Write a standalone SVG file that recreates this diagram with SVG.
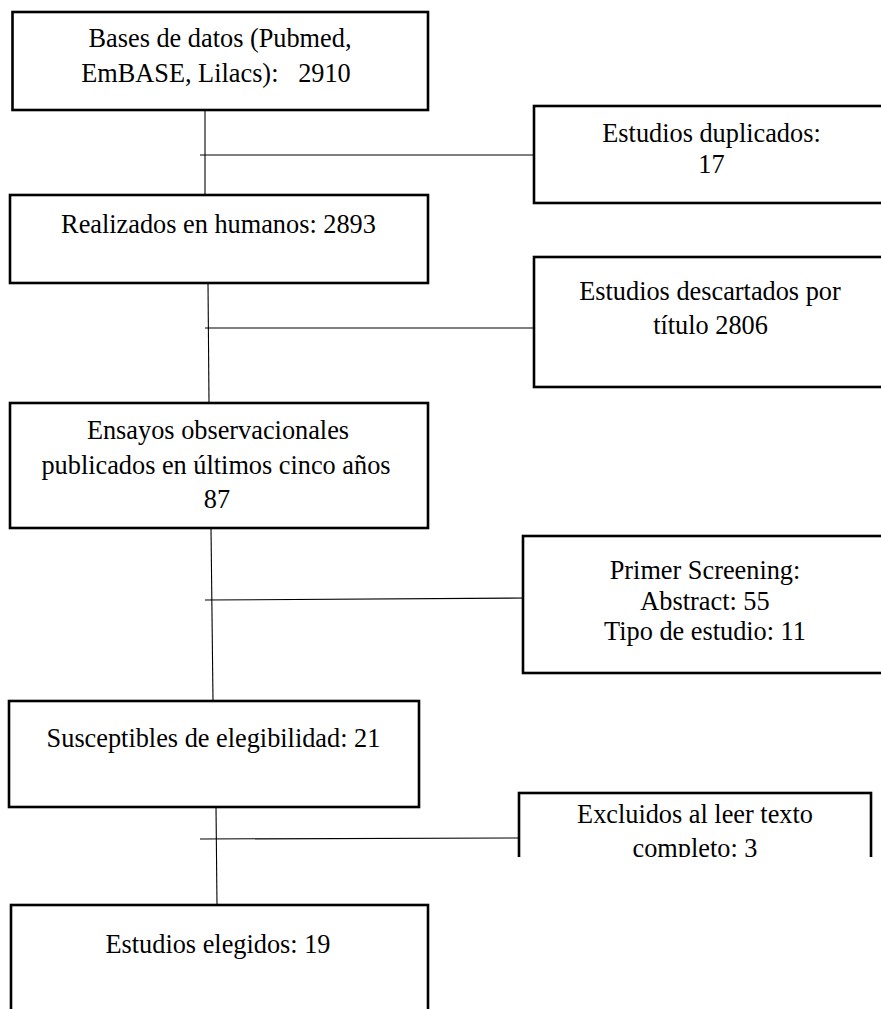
<svg xmlns="http://www.w3.org/2000/svg" width="881" height="1009" viewBox="0 0 881 1009">
<style>
.box{fill:#fff;stroke:#000;stroke-width:2.6}
.edge{fill:none;stroke:#000;stroke-width:1.1}
text{font-family:"Liberation Serif","Times New Roman",serif;font-size:26.3px;fill:#000;text-anchor:middle}
</style>
<defs>
<clipPath id="clip8"><rect x="510" y="780" width="371" height="77"/></clipPath>
</defs>
<rect width="881" height="1009" fill="#fff"/>
<g id="connectors">
<line class="edge" x1="205" y1="110" x2="205" y2="195"/>
<line class="edge" x1="200" y1="155" x2="533" y2="155"/>
<line class="edge" x1="208" y1="283" x2="209" y2="403"/>
<line class="edge" x1="205" y1="328" x2="533" y2="328"/>
<line class="edge" x1="211" y1="528" x2="213" y2="701"/>
<line class="edge" x1="205" y1="600" x2="530" y2="598"/>
<line class="edge" x1="216" y1="807" x2="217" y2="905"/>
<line class="edge" x1="200" y1="839" x2="520" y2="838"/>
</g>
<g id="n1">
<rect class="box" x="12.5" y="12" width="415.5" height="98"/>
<text x="220" y="47">Bases de datos (Pubmed,</text>
<text x="216" y="81.5" xml:space="preserve">EmBASE, Lilacs):   2910</text>
</g>
<g id="n2">
<rect class="box" x="534" y="106" width="360" height="97"/>
<text x="711.5" y="142">Estudios duplicados:</text>
<text x="711.5" y="173">17</text>
</g>
<g id="n3">
<rect class="box" x="10" y="195" width="418" height="88"/>
<text x="218.5" y="233">Realizados en humanos: 2893</text>
</g>
<g id="n4">
<rect class="box" x="534" y="257" width="360" height="130"/>
<text x="710" y="300">Estudios descartados por</text>
<text x="710.5" y="334">título 2806</text>
</g>
<g id="n5">
<rect class="box" x="10" y="403" width="418" height="125"/>
<text x="218" y="439">Ensayos observacionales</text>
<text x="216" y="474">publicados en últimos cinco años</text>
<text x="217" y="508">87</text>
</g>
<g id="n6">
<rect class="box" x="523" y="536" width="370" height="137"/>
<text x="705" y="579">Primer Screening:</text>
<text x="705" y="610">Abstract: 55</text>
<text x="705" y="640">Tipo de estudio: 11</text>
</g>
<g id="n7">
<rect class="box" x="9" y="701" width="410" height="106"/>
<text x="213.5" y="747">Susceptibles de elegibilidad: 21</text>
</g>
<g id="n8" clip-path="url(#clip8)">
<rect class="box" x="519" y="793" width="352" height="100"/>
<text x="695" y="823">Excluidos al leer texto</text>
<text x="695" y="857">completo: 3</text>
</g>
<g id="n9">
<rect class="box" x="11" y="905" width="417" height="120"/>
<text x="218" y="953">Estudios elegidos: 19</text>
</g>
</svg>
